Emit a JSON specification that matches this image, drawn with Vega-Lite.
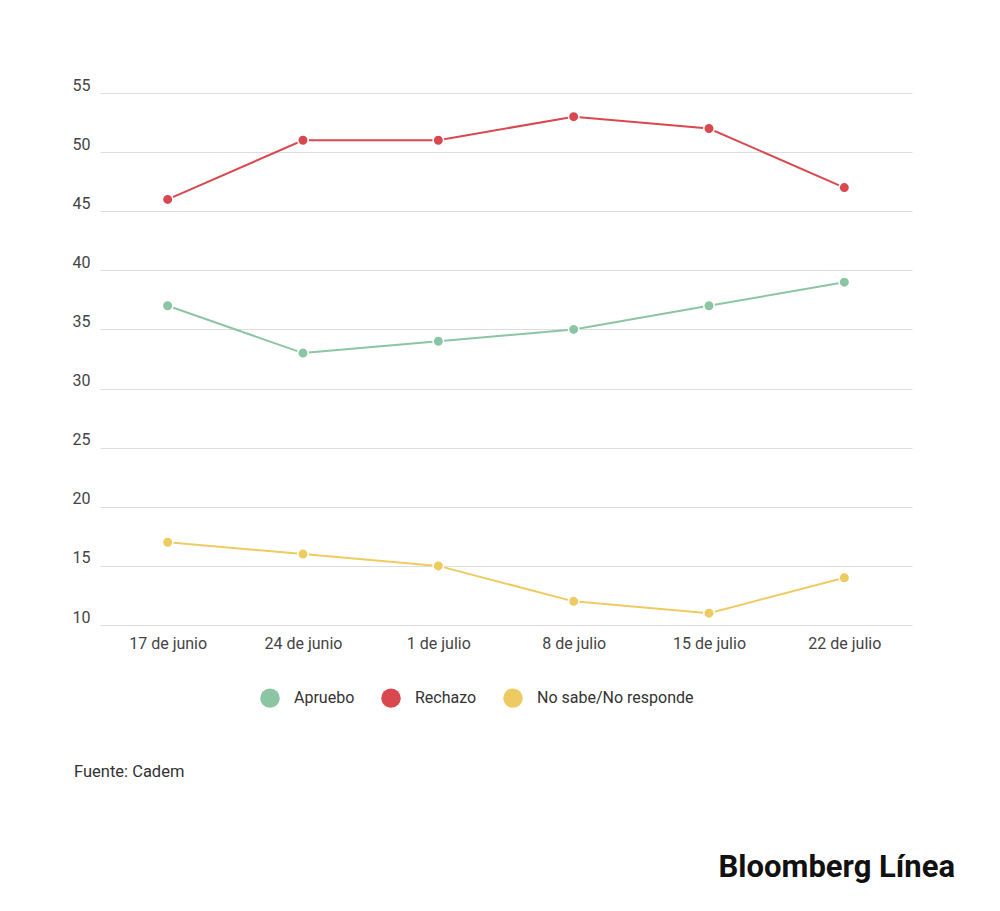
{
  "$schema": "https://vega.github.io/schema/vega-lite/v6.json",
  "autosize": "none",
  "width": 812,
  "height": 532,
  "padding": {"left": 100, "top": 93, "right": 88, "bottom": 286},
  "background": "white",
  "config": {"view": {"stroke": null}, "font": "Roboto"},
  "data": {
    "values": [
      {"fecha": "17 de junio", "serie": "Apruebo", "valor": 37},
      {"fecha": "24 de junio", "serie": "Apruebo", "valor": 33},
      {"fecha": "1 de julio", "serie": "Apruebo", "valor": 34},
      {"fecha": "8 de julio", "serie": "Apruebo", "valor": 35},
      {"fecha": "15 de julio", "serie": "Apruebo", "valor": 37},
      {"fecha": "22 de julio", "serie": "Apruebo", "valor": 39},
      {"fecha": "17 de junio", "serie": "Rechazo", "valor": 46},
      {"fecha": "24 de junio", "serie": "Rechazo", "valor": 51},
      {"fecha": "1 de julio", "serie": "Rechazo", "valor": 51},
      {"fecha": "8 de julio", "serie": "Rechazo", "valor": 53},
      {"fecha": "15 de julio", "serie": "Rechazo", "valor": 52},
      {"fecha": "22 de julio", "serie": "Rechazo", "valor": 47},
      {"fecha": "17 de junio", "serie": "No sabe/No responde", "valor": 17},
      {"fecha": "24 de junio", "serie": "No sabe/No responde", "valor": 16},
      {"fecha": "1 de julio", "serie": "No sabe/No responde", "valor": 15},
      {"fecha": "8 de julio", "serie": "No sabe/No responde", "valor": 12},
      {"fecha": "15 de julio", "serie": "No sabe/No responde", "valor": 11},
      {"fecha": "22 de julio", "serie": "No sabe/No responde", "valor": 14}
    ]
  },
  "layer": [
    {
      "encoding": {
        "x": {
          "field": "fecha",
          "type": "ordinal",
          "sort": null,
          "scale": {"type": "point", "padding": 0.5},
          "axis": {"title": null, "labelAngle": 0, "ticks": false, "domain": false, "labelFontSize": 16, "labelColor": "#444", "labelPadding": 10}
        },
        "y": {
          "field": "valor",
          "type": "quantitative",
          "scale": {"domain": [10, 55], "nice": false, "zero": false},
          "axis": {
            "title": null, "values": [10, 15, 20, 25, 30, 35, 40, 45, 50, 55],
            "domain": false, "ticks": false, "labelAlign": "left", "labelBaseline": "bottom",
            "labelPadding": 28, "labelDy": -3, "labelFontSize": 16, "labelColor": "#444",
            "gridColor": "#ddd"
          }
        },
        "color": {
          "field": "serie",
          "type": "nominal",
          "scale": {"domain": ["Apruebo", "Rechazo", "No sabe/No responde"], "range": ["#8cc5a4", "#d9484f", "#eecb60"]},
          "legend": {
            "title": null, "orient": "none", "legendX": 160, "legendY": 595, "direction": "horizontal",
            "symbolType": "circle", "symbolSize": 380, "symbolOpacity": 1, "labelFontSize": 16, "labelColor": "#333",
            "columnPadding": 26, "labelOffset": 14, "symbolStrokeWidth": 0
          }
        }
      },
      "layer": [
        {"mark": {"type": "line", "strokeWidth": 2}},
        {"mark": {"type": "point", "filled": true, "size": 110, "opacity": 1, "stroke": "white", "strokeWidth": 1.5}}
      ]
    },
    {
      "data": {"values": [{"t": "Fuente: Cadem"}]},
      "mark": {"type": "text", "align": "left", "baseline": "middle", "fontSize": 16.5, "font": "Roboto"},
      "encoding": {"text": {"field": "t"}, "x": {"value": -26}, "y": {"value": 679}, "color": {"value": "#333"}}
    },
    {
      "data": {"values": [{"t": "Bloomberg Línea"}]},
      "mark": {"type": "text", "align": "right", "baseline": "middle", "fontSize": 31, "fontWeight": "bold", "font": "Roboto", "letterSpacing": -1},
      "encoding": {"text": {"field": "t"}, "x": {"value": 855}, "y": {"value": 775}, "color": {"value": "#111"}}
    }
  ]
}
